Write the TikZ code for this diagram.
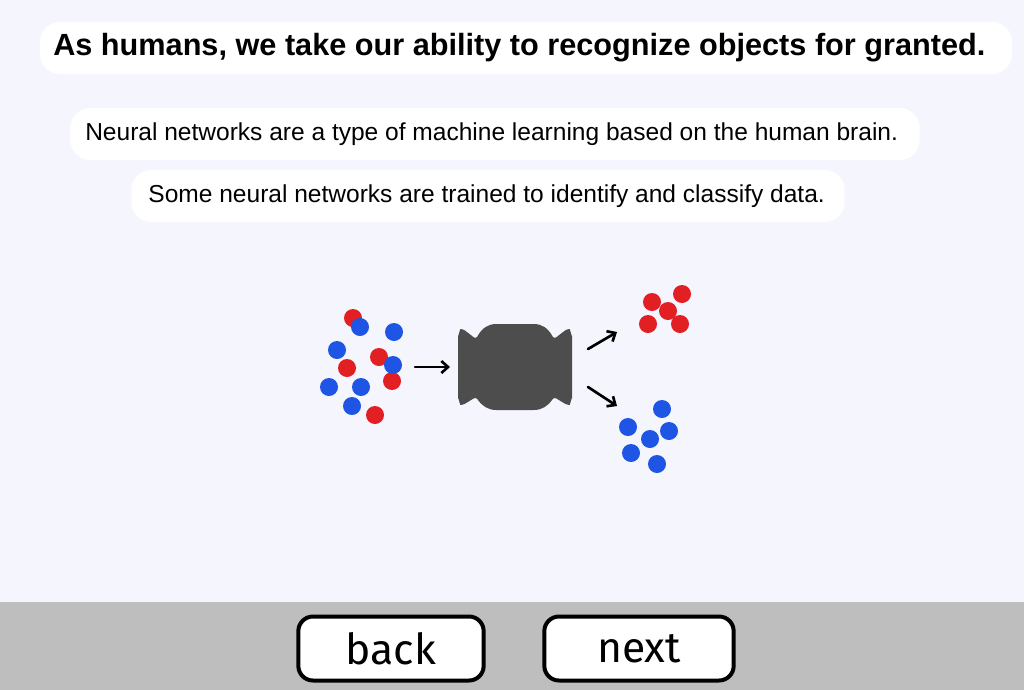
\documentclass[tikz,border=0pt]{standalone}
\usepackage{fontspec}
\setmainfont{Liberation Sans}
\newfontfamily\handfont{Fira Sans}
\usetikzlibrary{positioning,arrows.meta}
\definecolor{pagebg}{HTML}{F5F5FE}
\definecolor{barbg}{HTML}{BEBEBE}
\definecolor{dotred}{HTML}{E22024}
\definecolor{dotblue}{HTML}{1E55E4}
\definecolor{netgray}{HTML}{4D4D4D}
\tikzset{
  bubble/.style={fill=white, rounded corners=15pt, minimum height=39pt, inner sep=0pt},
  button/.style={fill=white, draw=black, line width=3pt, rounded corners=11pt, minimum height=48pt, inner sep=0pt, font=\handfont\fontsize{32}{34}\selectfont},
  flow/.style={->, line width=2pt},
}
\begin{document}
\begin{tikzpicture}[x=0.75pt, y=-0.75pt, line join=round, line cap=round, >={Straight Barb[length=5pt,width=9pt]}]
  \def\r{9}
  \useasboundingbox (0,0) rectangle (1024,690);
  \fill[pagebg] (0,0) rectangle (1024,602);
  \fill[barbg] (0,602) rectangle (1024,690);
  % text boxes
  \node[bubble, minimum width=729pt, font=\bfseries\fontsize{23}{26}\selectfont] (title) at (526,48)
    {As humans, we take our ability to recognize objects for granted.\kern10pt};
  \node[bubble, minimum width=637pt, font=\fontsize{18.4}{21}\selectfont] (line1) at (495,134)
    {Neural networks are a type of machine learning based on the human brain.\kern5pt};
  \node[bubble, minimum width=535pt, font=\fontsize{18.4}{21}\selectfont] (line2) at (488,196)
    {Some neural networks are trained to identify and classify data.\kern2pt};
  % mixed input data
  \foreach \x/\y in {353/318, 379/357, 347/368, 392/381, 375/415}
    \fill[dotred] (\x,\y) circle[radius=\r];
  \foreach \x/\y in {360/327, 394/332, 337/350, 393/365, 329/387, 361/387, 352/406}
    \fill[dotblue] (\x,\y) circle[radius=\r];
  % the network
  \fill[netgray, rounded corners=2pt] (458,334) to[out=-90,in=180] (463,329) -- (476,339)
    .. controls (482,328) and (488,324) .. (499,324) -- (531,324)
    .. controls (542,324) and (548,328) .. (554,339) -- (567,329)
    to[out=0,in=-90] (572,334) -- (572,400) to[out=90,in=0] (567,405)
    -- (554,397) .. controls (548,406) and (542,410) .. (531,410) -- (499,410)
    .. controls (488,410) and (482,406) .. (476,397) -- (463,405)
    to[out=180,in=90] (458,400) -- cycle;
  \coordinate (inS) at (415,367);  \coordinate (inE) at (450,367);
  \coordinate (upS) at (588,349);  \coordinate (upE) at (617,332);
  \coordinate (dnS) at (588,387);  \coordinate (dnE) at (617,406);
  \draw[flow] (inS) -- (inE);
  \draw[flow] (upS) -- (upE);
  \draw[flow] (dnS) -- (dnE);
  % sorted output
  \foreach \x/\y in {652/302, 682/294, 668/311, 648/324, 680/324}
    \fill[dotred] (\x,\y) circle[radius=\r];
  \foreach \x/\y in {662/409, 628/427, 669/431, 650/439, 631/453, 657/464}
    \fill[dotblue] (\x,\y) circle[radius=\r];
  % buttons
  \node[button, minimum width=139pt] (back) at (391,648.5) {back};
  \node[button, minimum width=142pt] (next) at (639,648.5) {next};
\end{tikzpicture}
\end{document}
